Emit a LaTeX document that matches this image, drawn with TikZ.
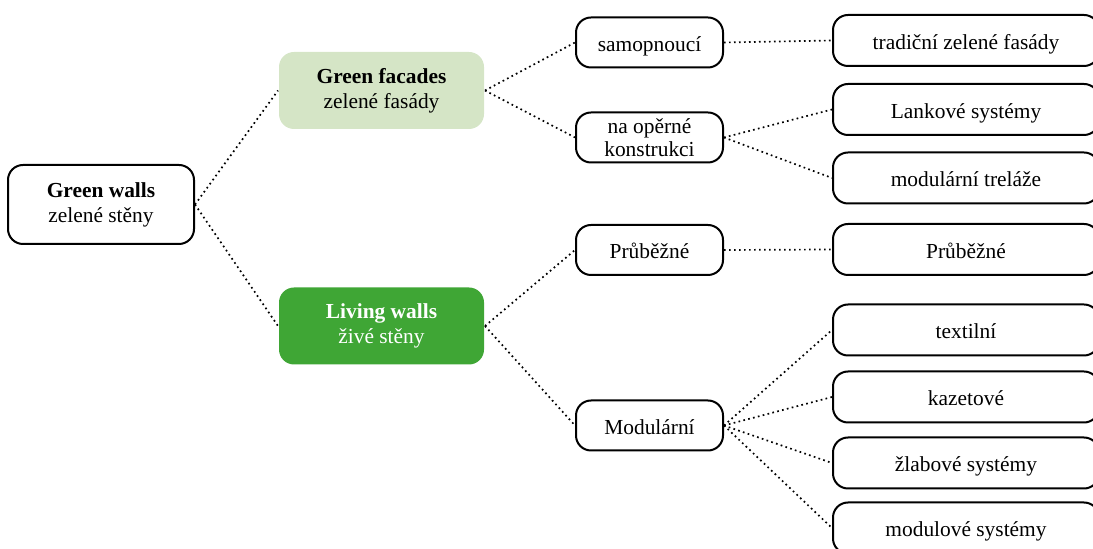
\documentclass[tikz,border=0pt]{standalone}
\usepackage{fontspec}
\setmainfont{Liberation Serif}
\usepackage{xcolor}
\usetikzlibrary{shapes}
\definecolor{facadegreen}{RGB}{213,229,198}
\definecolor{livinggreen}{RGB}{63,166,53}
\tikzstyle{box} = [draw, line width=1pt, rounded corners=7.5pt, align=center, inner sep=0pt, font=\fontsize{10.7}{12.5}\selectfont]
\tikzstyle{oneline} = [text height=9pt, text depth=0pt]
\tikzstyle{rootbox} = [box, minimum width=93pt, minimum height=39.5pt]
\tikzstyle{groupbox} = [box, draw=none, minimum width=102.5pt, minimum height=38.5pt]
\tikzstyle{typebox} = [box, minimum width=73.5pt, minimum height=25pt]
\tikzstyle{systembox} = [box, oneline, minimum width=133pt, minimum height=25.5pt]
\tikzstyle{link} = [draw, line width=0.85pt, dash pattern=on 0.85pt off 1.65pt]

\begin{document}
\begin{tikzpicture}[x=0.5pt, y=-0.5pt]
            \useasboundingbox (0,0) rectangle (1093,549);
            \clip (0,0) rectangle (1093,549);
                \node [rootbox] (walls) at (101,204.5) {\textbf{Green walls}\\zelené stěny};
                \node [groupbox, fill=facadegreen] (facades) at (381.5,90.5) {\textbf{Green facades}\\zelené fasády};
                \node [groupbox, fill=livinggreen, text=white] (living) at (381.5,326) {\textbf{Living walls}\\živé stěny};
                \node [typebox, oneline] (selfclimb) at (649.5,42.5) {samopnoucí};
                \node [typebox, font=\fontsize{10.7}{11.5}\selectfont] (support) at (649.5,137.5) {na opěrné\\konstrukci};
                \node [typebox, oneline] (continuous) at (649.5,250) {Průběžné};
                \node [typebox, oneline] (modular) at (649.5,425.5) {Modulární};
                \node [systembox] (traditional) at (966,40.5) {tradiční zelené fasády};
                \node [systembox] (cable) at (966,109.5) {Lankové systémy};
                \node [systembox] (trellis) at (966,178) {modulární treláže};
                \node [systembox] (continuousSys) at (966,249.5) {Průběžné};
                \node [systembox] (textile) at (966,330) {textilní};
                \node [systembox] (cassette) at (966,397) {kazetové};
                \node [systembox] (trough) at (966,463) {žlabové systémy};
                \node [systembox] (module) at (966,528) {modulové systémy};
                \path [link] (walls.east) -- (facades.west);
                \path [link] (walls.east) -- (living.west);
                \path [link] (facades.east) -- (selfclimb.west);
                \path [link] (facades.east) -- (support.west);
                \path [link] (living.east) -- (continuous.west);
                \path [link] (living.east) -- (modular.west);
                \path [link] (selfclimb.east) -- (traditional.west);
                \path [link] (support.east) -- (cable.west);
                \path [link] (support.east) -- (trellis.west);
                \path [link] (continuous.east) -- (continuousSys.west);
                \path [link] (modular.east) -- (textile.west);
                \path [link] (modular.east) -- (cassette.west);
                \path [link] (modular.east) -- (trough.west);
                \path [link] (modular.east) -- (module.west);
            \end{tikzpicture}
\end{document}
